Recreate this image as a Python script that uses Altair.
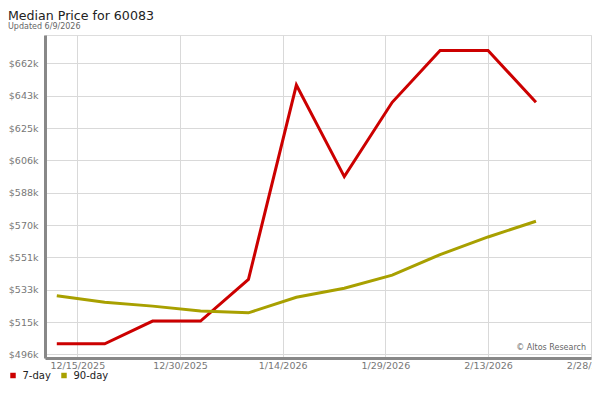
import altair as alt
import pandas as pd

dates = ["2025-12-12", "2025-12-19", "2025-12-26", "2026-01-02", "2026-01-09",
         "2026-01-16", "2026-01-23", "2026-01-30", "2026-02-06", "2026-02-13",
         "2026-02-20"]
seven_day = [502300, 502300, 515200, 515200, 538900, 649300, 597300, 639500,
             669000, 669000, 639500]
ninety_day = [529600, 525900, 523700, 520900, 519900, 528700, 533900, 541300,
              553000, 563000, 571900]
series_names = ["7-day", "90-day"]
series_colors = ["#cc0000", "#a8a000"]

y_ticks = [496220, 514590, 532960, 551330, 569700, 588070, 606440, 624810,
           643180, 661550]
y_domain = [494230, 677740]
x_ticks = ["2025-12-15", "2025-12-30", "2026-01-14", "2026-01-29",
           "2026-02-13", "2026-02-28"]
x_domain = ["2025-12-10T06:40:00Z", "2026-02-28T01:00:00Z"]

rows = []
for d, v in zip(dates, seven_day):
    rows.append({"date": d + "T00:00:00Z", "value": v, "series": series_names[0]})
for d, v in zip(dates, ninety_day):
    rows.append({"date": d + "T00:00:00Z", "value": v, "series": series_names[1]})
df = pd.DataFrame(rows)
legend_df = pd.DataFrame({"name": series_names})

x_tick_ms = [int(pd.Timestamp(t, tz="UTC").timestamp() * 1000) for t in x_ticks]
x_dom_ms = [int(pd.Timestamp(t).timestamp() * 1000) for t in x_domain]

FONT = "DejaVu Sans"

x_enc = alt.X(
    "date:T",
    scale=alt.Scale(type="utc", domain=x_dom_ms),
    axis=alt.Axis(
        values=x_tick_ms,
        tickCount=20,
        labelExpr="utcFormat(datum.value, '%-m/%-d/%Y')",
        title=None,
        ticks=False,
        tickSize=0,
        labelPadding=2.5,
        labelFontSize=9.5,
        labelColor="#777777",
        labelFont=FONT,
        domainColor="#888888",
        domainWidth=3,
        gridColor="#d9d9d9",
        labelFlush=False,
        labelOverlap=False,
    ),
)
y_enc = alt.Y(
    "value:Q",
    scale=alt.Scale(domain=y_domain, nice=False, zero=False),
    axis=alt.Axis(
        values=y_ticks,
        tickCount=20,
        labelExpr="'$' + round(datum.value / 1000) + 'k'",
        title=None,
        ticks=False,
        tickSize=0,
        labelPadding=7,
        labelFontSize=9.5,
        labelColor="#777777",
        labelFont=FONT,
        domainColor="#888888",
        domainWidth=3,
        gridColor="#d9d9d9",
        labelOverlap=False,
    ),
)

lines = alt.Chart(df).mark_line(strokeWidth=3).encode(
    x=x_enc,
    y=y_enc,
    stroke=alt.Stroke("series:N", scale=alt.Scale(domain=series_names, range=series_colors),
                      legend=None),
)

legend_layer = alt.Chart(legend_df).mark_square(size=30, opacity=0).encode(
    x=alt.value(0),
    y=alt.value(0),
    fill=alt.Fill(
        "name:N",
        scale=alt.Scale(domain=series_names, range=series_colors),
        legend=alt.Legend(
            title=None,
            orient="none",
            legendX=-37,
            legendY=335.5,
            direction="horizontal",
            symbolType="square",
            symbolSize=30,
            symbolOpacity=1,
            symbolStrokeWidth=0,
            labelFontSize=10,
            labelFont=FONT,
            labelColor="#222222",
            labelOffset=4.5,
            columnPadding=8,
            padding=0,
        ),
    ),
)

credit_df = pd.DataFrame({"label": ["\u00a9 Altos Research"]})
credit = alt.Chart(credit_df).mark_text(
    align="right", baseline="alphabetic", fontSize=8, font=FONT, color="#666666"
).encode(x=alt.value(541), y=alt.value(315), text="label:N")

chart = alt.layer(lines, legend_layer, credit).resolve_scale(
    fill="independent", stroke="independent"
).properties(
    width=546,
    height=323,
    padding={"left": 37, "top": 27, "right": 1, "bottom": 23},
    autosize=alt.AutoSizeParams(type="none"),
    title=alt.Title(
        text="Median Price for 60083",
        subtitle="Updated 6/9/2026",
        anchor="start",
        frame="group",
        dx=-37,
        font=FONT,
        fontSize=12.6,
        fontWeight="normal",
        color="#222222",
        subtitleFont=FONT,
        subtitleFontSize=8,
        subtitleColor="#666666",
        subtitlePadding=1,
        offset=1,
    ),
).configure_view(stroke="#d9d9d9", strokeWidth=1).configure(background="white")

chart.save("out.html", embed_options={"renderer": "svg", "actions": False})
